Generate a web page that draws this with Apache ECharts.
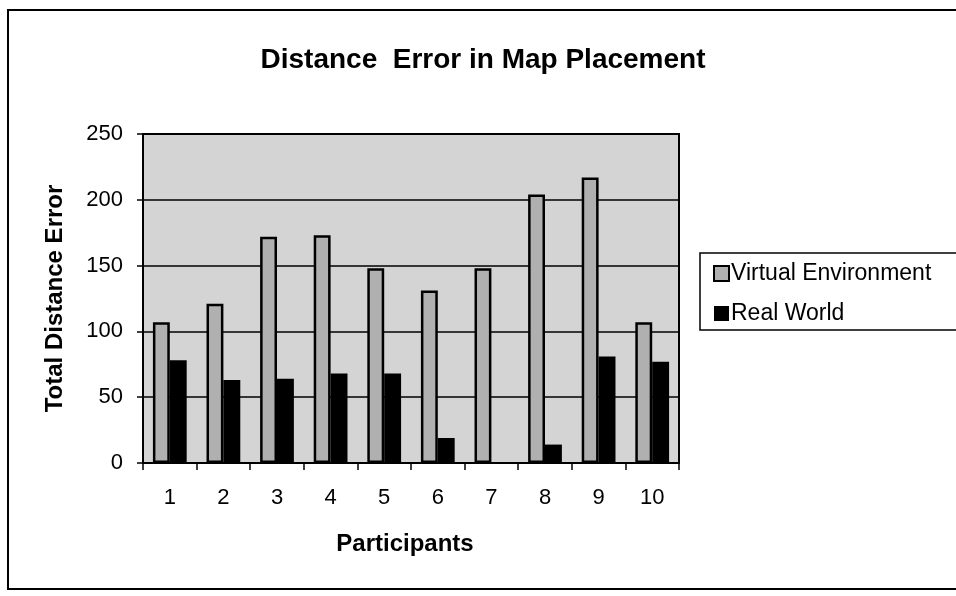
<!DOCTYPE html>
<html>
<head>
<meta charset="utf-8">
<script src="https://cdn.jsdelivr.net/npm/echarts@6/dist/echarts.min.js"></script>
<style>
  html, body { margin: 0; padding: 0; background: #fff; }
  #chart { width: 956px; height: 596px; }
</style>
</head>
<body>
<div id="chart"></div>
<script>
// participants 1..10
const participants = ['1', '2', '3', '4', '5', '6', '7', '8', '9', '10'];
const virtualEnv = [107, 121, 172, 173, 148, 131, 148, 204, 217, 107];
const realWorld  = [78, 63, 64, 68, 68, 19, 0, 14, 81, 77];

const chart = echarts.init(document.getElementById('chart'));
const font = 'Liberation Sans, Arial, sans-serif';

chart.setOption({
  animation: false,
  textStyle: { fontFamily: font, color: '#000' },
  title: {
    text: 'Distance  Error in Map Placement',
    left: 478, top: 41, textAlign: 'center',
    textStyle: { fontSize: 28, fontWeight: 'bold', color: '#000', fontFamily: font },
  },
  legend: {
    orient: 'vertical',
    left: 708, top: 257,
    itemWidth: 15, itemHeight: 15, itemGap: 17,
    icon: 'rect',
    textStyle: { fontSize: 23, color: '#000', fontFamily: font, padding: [0, 0, 0, -3] },
    data: ['Virtual Environment', 'Real World'],
  },
  graphic: [
    // outer frame
    { type: 'rect', shape: { x: 8, y: 10, width: 960, height: 579 },
      style: { fill: 'none', stroke: '#000', lineWidth: 2 }, silent: true },
    // legend box
    { type: 'rect', shape: { x: 700, y: 253, width: 270, height: 77 },
      style: { fill: 'none', stroke: '#000', lineWidth: 1.5 }, silent: true },
  ],
  grid: {
    left: 143, right: 277, top: 134, bottom: 133,
    show: true, backgroundColor: '#d4d4d4', borderColor: '#000', borderWidth: 2,
  },
  xAxis: {
    type: 'category',
    data: participants,
    name: 'Participants',
    nameLocation: 'middle', nameGap: 69,
    nameTextStyle: { fontSize: 24, fontWeight: 'bold', color: '#000', padding: [0, 12, 0, 0] },
    axisLine: { lineStyle: { color: '#000', width: 2 } },
    axisTick: { show: true, length: 7, lineStyle: { color: '#000', width: 1.5 } },
    axisLabel: { fontSize: 22, color: '#000', margin: 24 },
  },
  yAxis: {
    type: 'value',
    min: 0, max: 250, interval: 50,
    name: 'Total Distance Error',
    nameLocation: 'middle', nameGap: 76,
    nameTextStyle: { fontSize: 24, fontWeight: 'bold', color: '#000' },
    axisLine: { show: true, lineStyle: { color: '#000', width: 2 } },
    axisTick: { show: true, length: 6, lineStyle: { color: '#000', width: 1.5 } },
    axisLabel: { fontSize: 22, color: '#000', margin: 20 },
    splitLine: { lineStyle: { color: '#000', width: 1.5 } },
  },
  series: [
    {
      name: 'Virtual Environment',
      type: 'bar',
      data: virtualEnv,
      barGap: '0%',
      barCategoryGap: '37%',
      itemStyle: { color: '#b0b0b0', borderColor: '#000', borderWidth: 2.5 },
    },
    {
      name: 'Real World',
      type: 'bar',
      data: realWorld,
      itemStyle: { color: '#000' },
    },
  ],
});
</script>
</body>
</html>
